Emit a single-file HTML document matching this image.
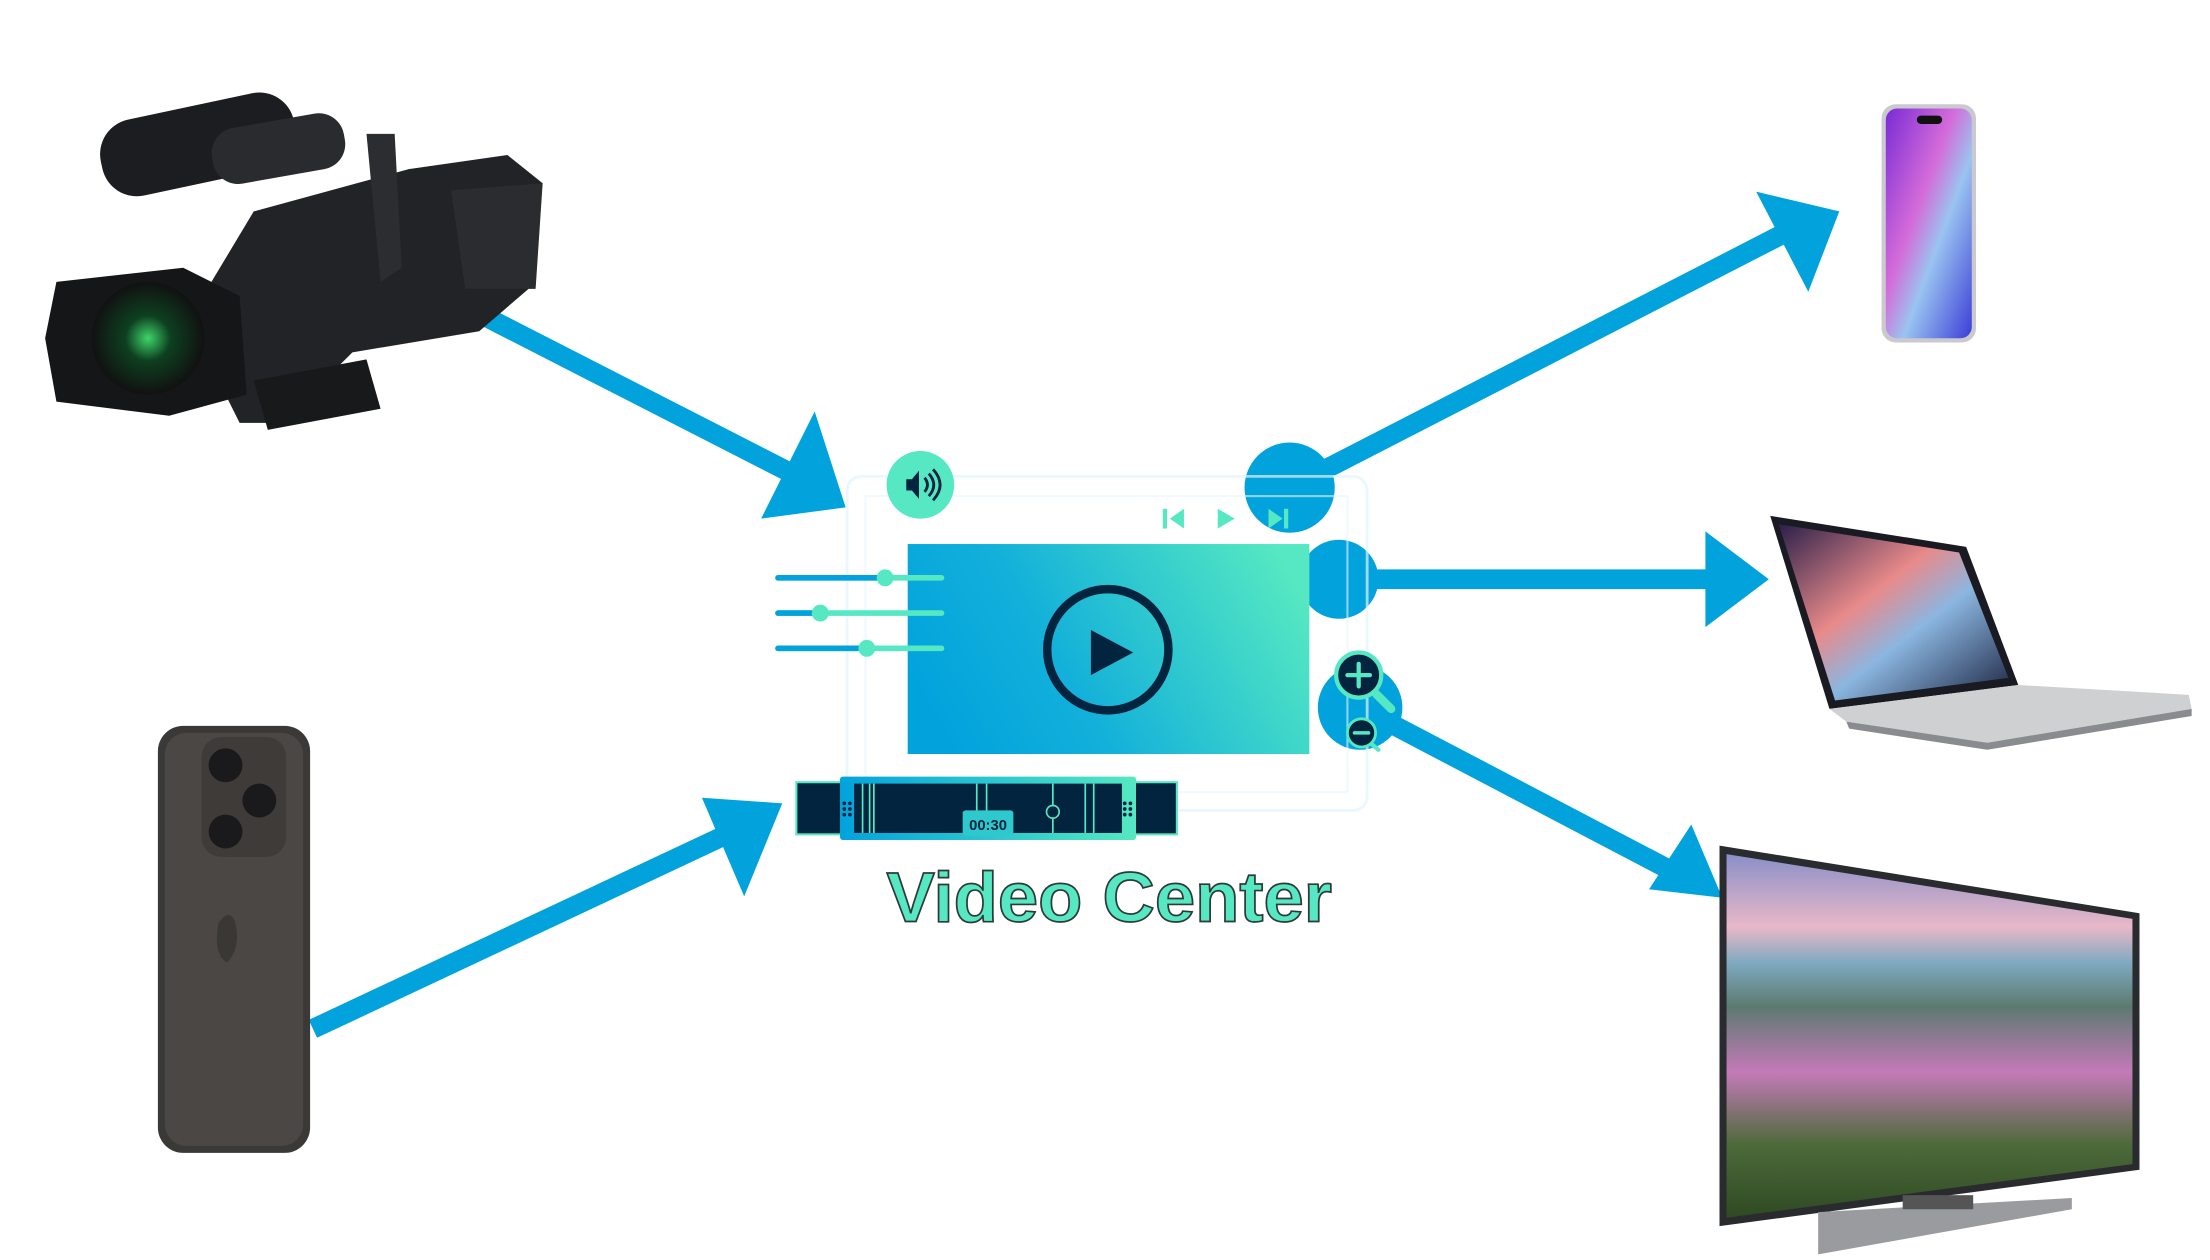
<!DOCTYPE html>
<html><head><meta charset="utf-8"><style>
html,body{margin:0;padding:0;background:#fff;}
svg{display:block;}
</style></head><body>
<svg width="2210" height="1260" viewBox="0 0 1568 894" xmlns="http://www.w3.org/2000/svg">
<defs>
<linearGradient id="scr" x1="0" y1="0.6" x2="1" y2="0.3">
<stop offset="0" stop-color="#02a3dd"/><stop offset="0.35" stop-color="#12b0da"/><stop offset="1" stop-color="#55e8c2"/></linearGradient>
<linearGradient id="tl" x1="0" y1="0" x2="1" y2="0">
<stop offset="0" stop-color="#02a3dd"/><stop offset="1" stop-color="#55e8c2"/></linearGradient>
<linearGradient id="ph" x1="0" y1="0" x2="1" y2="1">
<stop offset="0" stop-color="#7a2bd6"/><stop offset="0.4" stop-color="#d46bd9"/><stop offset="0.6" stop-color="#9ac4f0"/><stop offset="1" stop-color="#3b3dd6"/></linearGradient>
<linearGradient id="lap" x1="0" y1="0" x2="1" y2="1">
<stop offset="0" stop-color="#2a1f4a"/><stop offset="0.4" stop-color="#e88a8a"/><stop offset="0.6" stop-color="#8bb6e0"/><stop offset="1" stop-color="#1b2340"/></linearGradient>
<linearGradient id="tv" x1="0" y1="0" x2="0" y2="1">
<stop offset="0" stop-color="#8a8fc8"/><stop offset="0.2" stop-color="#e8b8c8"/><stop offset="0.3" stop-color="#7fa9c0"/><stop offset="0.42" stop-color="#5c7a70"/><stop offset="0.6" stop-color="#c47ab8"/><stop offset="0.8" stop-color="#4c6a3a"/><stop offset="1" stop-color="#2f4a22"/></linearGradient>
<radialGradient id="lens" cx="0.5" cy="0.5" r="0.5"><stop offset="0" stop-color="#3fd46a"/><stop offset="0.4" stop-color="#0d4020"/><stop offset="1" stop-color="#111"/></radialGradient>
</defs>

<!-- arrows -->
<g fill="#02a3dd" stroke="none">
<line x1="345" y1="225" x2="560" y2="335" stroke="#02a3dd" stroke-width="14"/>
<polygon points="600,360 540,368 578,292"/>
<line x1="222" y1="730" x2="520" y2="590" stroke="#02a3dd" stroke-width="14"/>
<polygon points="555,570 498,566 528,636"/>
<circle cx="915" cy="346" r="32"/>
<line x1="915" y1="346" x2="1265" y2="166" stroke="#02a3dd" stroke-width="14"/>
<polygon points="1305,150 1246,136 1283,207"/>
<circle cx="950" cy="411" r="28"/>
<line x1="950" y1="411" x2="1215" y2="411" stroke="#02a3dd" stroke-width="14"/>
<polygon points="1255,411 1210,377 1210,445"/>
<circle cx="965" cy="502" r="30"/>
<line x1="965" y1="502" x2="1190" y2="620" stroke="#02a3dd" stroke-width="14"/>
<polygon points="1222,637 1170,631 1200,585"/>
</g>

<!-- frame -->
<rect x="601" y="338" width="369" height="237" rx="10" fill="none" stroke="#dff3fd" stroke-width="2" opacity="0.7"/>
<rect x="614" y="352" width="342" height="210" fill="none" stroke="#e6f6fd" stroke-width="1.5" opacity="0.6"/>

<!-- screen -->
<rect x="644" y="386" width="285" height="149" fill="url(#scr)"/>
<circle cx="786" cy="461" r="43" fill="none" stroke="#03243f" stroke-width="6"/>
<polygon points="774,447 774,479 804,463" fill="#03243f"/>

<!-- sliders -->
<g stroke-linecap="round" stroke-width="4">
<line x1="552" y1="410" x2="668" y2="410" stroke="#55e8c2"/><line x1="552" y1="410" x2="628" y2="410" stroke="#02a3dd"/>
<line x1="552" y1="435" x2="668" y2="435" stroke="#55e8c2"/><line x1="552" y1="435" x2="582" y2="435" stroke="#02a3dd"/>
<line x1="552" y1="460" x2="668" y2="460" stroke="#55e8c2"/><line x1="552" y1="460" x2="615" y2="460" stroke="#02a3dd"/>
</g>
<g fill="#55e8c2"><circle cx="628" cy="410" r="6"/><circle cx="582" cy="435" r="6"/><circle cx="615" cy="460" r="6"/></g>

<!-- speaker -->
<circle cx="653" cy="344" r="24" fill="#55e8c2"/>
<polygon points="643,340 647,340 652,334 652,354 647,348 643,348" fill="#03243f"/>
<path d="M656,339 q4,5 0,10 M659,336 q7,8 0,16 M662,333 q10,11 0,22" fill="none" stroke="#03243f" stroke-width="2"/>

<!-- controls -->
<g fill="#55e8c2">
<rect x="825" y="361" width="3" height="14"/><polygon points="840,361 840,375 830,368"/>
<polygon points="864,361 864,375 876,368"/>
<polygon points="900,361 900,375 910,368"/><rect x="911" y="361" width="3" height="14"/>
</g>

<!-- zoom icons -->
<line x1="974" y1="490" x2="987" y2="503" stroke="#55e8c2" stroke-width="6" stroke-linecap="round"/>
<circle cx="964" cy="479" r="16" fill="#03243f" stroke="#55e8c2" stroke-width="3"/>
<path d="M964,471 v16 M956,479 h16" stroke="#55e8c2" stroke-width="3" stroke-linecap="round"/>
<line x1="971" y1="526" x2="978" y2="532" stroke="#55e8c2" stroke-width="3" stroke-linecap="round"/>
<circle cx="966" cy="520" r="10" fill="#03243f" stroke="#55e8c2" stroke-width="2"/>
<line x1="961" y1="520" x2="971" y2="520" stroke="#55e8c2" stroke-width="2.5" stroke-linecap="round"/>

<!-- timeline -->
<rect x="565" y="555" width="270" height="37" fill="#03243f" stroke="#55e8c2" stroke-width="1.5"/>
<rect x="596" y="551" width="210" height="45" rx="2" fill="url(#tl)"/>
<rect x="606" y="556" width="190" height="35" fill="#03243f"/>
<g stroke="#55e8c2" stroke-width="1.2">
<line x1="612" y1="556" x2="612" y2="591"/><line x1="617" y1="556" x2="617" y2="591"/>
<line x1="693" y1="556" x2="693" y2="591"/><line x1="700" y1="556" x2="700" y2="591"/>
<line x1="770" y1="556" x2="770" y2="591"/><line x1="776" y1="556" x2="776" y2="591"/>
<line x1="747" y1="556" x2="747" y2="591"/>
<line x1="620" y1="556" x2="620" y2="591"/>
</g>
<circle cx="747" cy="576" r="4.5" fill="#03243f" stroke="#55e8c2" stroke-width="1.2"/>
<rect x="683" y="575" width="36" height="18" rx="2" fill="#2fc8cc"/>
<text x="701" y="589" font-family="Liberation Sans, sans-serif" font-size="10.5" font-weight="bold" fill="#03243f" text-anchor="middle">00:30</text>
<g fill="#03243f"><circle cx="599" cy="570" r="1.3"/><circle cx="603" cy="570" r="1.3"/><circle cx="599" cy="574" r="1.3"/><circle cx="603" cy="574" r="1.3"/><circle cx="599" cy="578" r="1.3"/><circle cx="603" cy="578" r="1.3"/>
<circle cx="798" cy="570" r="1.3"/><circle cx="802" cy="570" r="1.3"/><circle cx="798" cy="574" r="1.3"/><circle cx="802" cy="574" r="1.3"/><circle cx="798" cy="578" r="1.3"/><circle cx="802" cy="578" r="1.3"/></g>

<text x="787" y="654" font-family="Liberation Sans, sans-serif" font-size="50" font-weight="bold" fill="#55e8c2" stroke="#2e3a36" stroke-width="1.2" text-anchor="middle" textLength="316" lengthAdjust="spacingAndGlyphs">Video Center</text>

<!-- camera -->
<g>
<rect x="70" y="75" width="140" height="55" rx="25" fill="#1c1d20" transform="rotate(-12 140 100)"/>
<rect x="150" y="85" width="95" height="40" rx="18" fill="#2a2b2e" transform="rotate(-10 200 105)"/>
<path d="M180,150 L290,120 L360,110 L385,130 L375,205 L340,235 L250,250 L200,300 L170,300 L150,260 L150,200 Z" fill="#222326"/>
<path d="M40,200 L130,190 L170,210 L175,280 L120,295 L40,285 L32,240 Z" fill="#151618"/>
<circle cx="105" cy="240" r="40" fill="url(#lens)"/>
<path d="M260,95 L280,95 L285,190 L270,200 Z" fill="#2c2d30"/>
<path d="M320,135 L385,130 L380,205 L330,205 Z" fill="#2b2c2f"/>
<path d="M180,270 L260,255 L270,290 L190,305 Z" fill="#18191b"/>
</g>

<!-- iphone (left) -->
<g>
<rect x="112" y="515" width="108" height="303" rx="18" fill="#3b3937"/>
<rect x="117" y="520" width="98" height="293" rx="15" fill="#4a4744"/>
<rect x="143" y="523" width="60" height="85" rx="14" fill="#3e3b38"/>
<circle cx="160" cy="543" r="12" fill="#1a1a1c"/><circle cx="184" cy="568" r="12" fill="#1a1a1c"/><circle cx="160" cy="590" r="12" fill="#1a1a1c"/>
<path d="M155,655 q8,-12 12,0 q4,18 -6,28 q-10,-6 -6,-28z" fill="#3a3835"/>
</g>

<!-- phone top right -->
<rect x="1335" y="74" width="67" height="169" rx="10" fill="#c9c9cf"/>
<rect x="1338" y="77" width="61" height="163" rx="8" fill="url(#ph)"/>
<rect x="1360" y="82" width="18" height="6" rx="3" fill="#111"/>

<!-- laptop -->
<polygon points="1256,366 1395,388 1432,486 1298,503" fill="#1a1a22"/>
<polygon points="1262,372 1390,392 1425,481 1302,497" fill="url(#lap)"/>
<polygon points="1298,503 1432,486 1553,493 1555,503 1410,527 1310,512" fill="#cfd0d2"/>
<polygon points="1310,512 1410,527 1555,503 1555,508 1410,532 1312,517" fill="#8a8b8e"/>

<!-- tv -->
<polygon points="1220,600 1518,648 1518,830 1220,870" fill="#2a2b2e"/>
<polygon points="1225,606 1513,652 1513,826 1225,864" fill="url(#tv)"/>
<polygon points="1290,860 1470,850 1470,858 1290,890" fill="#9a9b9e"/>
<rect x="1350" y="848" width="50" height="10" fill="#555"/>
</svg>
</body></html>
